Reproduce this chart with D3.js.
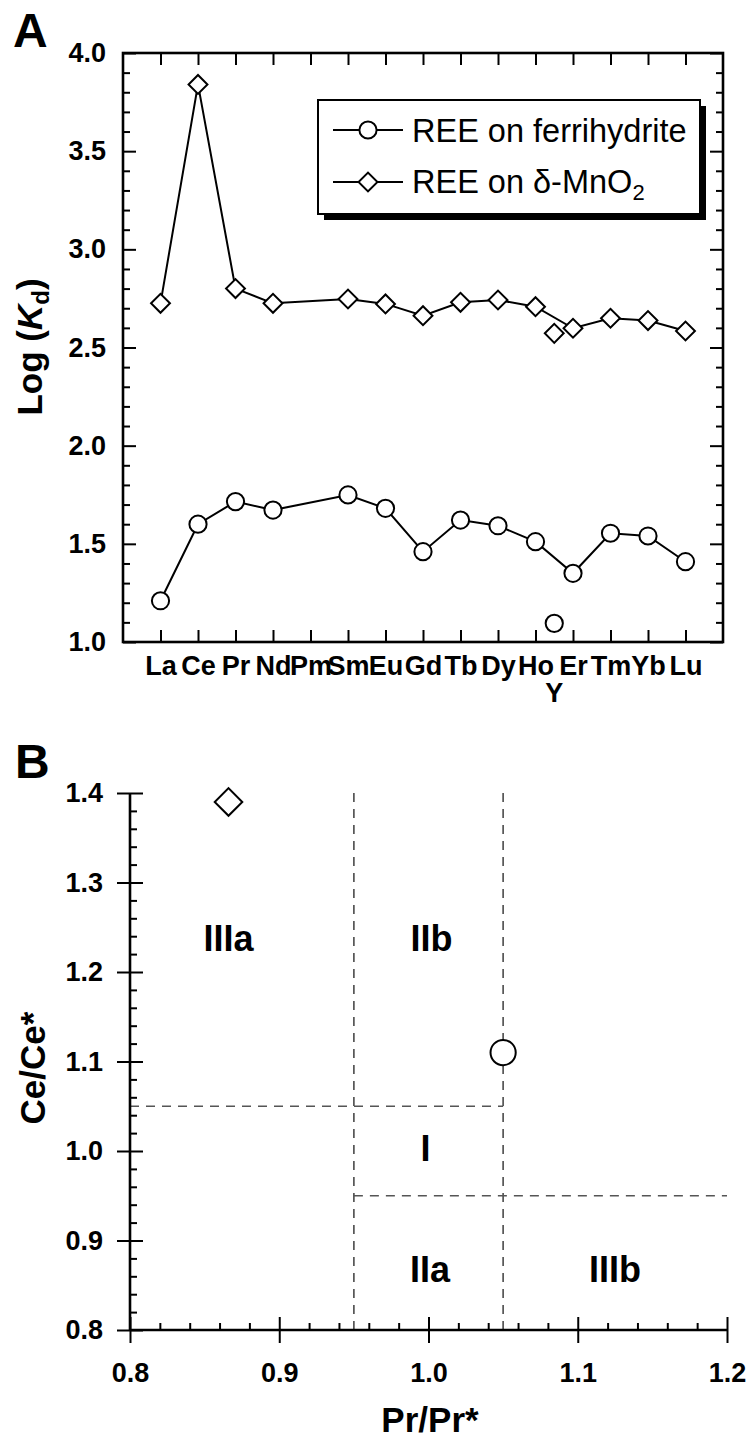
<!DOCTYPE html>
<html>
<head>
<meta charset="utf-8">
<script src="https://cdn.jsdelivr.net/npm/d3@7"></script>
<style>
  html, body { margin: 0; padding: 0; background: #fff; }
  svg { display: block; }
  text { font-family: "Liberation Sans", Arial, Helvetica, sans-serif; }
</style>
</head>
<body>
<svg id="chart" width="747" height="1441"></svg>
<script>
// ---------------- DATA ----------------
// Panel A: log(Kd) of REE on ferrihydrite and on delta-MnO2
const categories = ["La","Ce","Pr","Nd","Pm","Sm","Eu","Gd","Tb","Dy","Ho","Er","Tm","Yb","Lu"];
const ferrihydrite = [1.21, 1.60, 1.715, 1.672, null, 1.749, 1.681, 1.46, 1.621, 1.592, 1.511, 1.35, 1.554, 1.54, 1.409];
const mno2 = [2.725, 3.84, 2.80, 2.725, null, 2.747, 2.722, 2.662, 2.730, 2.742, 2.708, 2.598, 2.649, 2.637, 2.584];
// Yttrium plotted between Ho and Er
const yttriumLabel = "Y";
const yttriumPos = 11.5;          // category position (La = 1)
const yttriumFerrihydrite = 1.095;
const yttriumMnO2 = 2.572;
const yTicksA = [1.0, 1.5, 2.0, 2.5, 3.0, 3.5, 4.0];
const legendLabels = ["REE on ferrihydrite", "REE on δ-MnO"];

// Panel B: Ce/Ce* vs Pr/Pr*
const anomalyPoints = [
  { series: "mno2", pr: 0.866, ce: 1.39 },
  { series: "ferrihydrite", pr: 1.05, ce: 1.11 }
];
const xTicksB = [0.8, 0.9, 1.0, 1.1, 1.2];
const yTicksB = [0.8, 0.9, 1.0, 1.1, 1.2, 1.3, 1.4];
const fieldBoundaries = [
  { x1: 0.95, y1: 1.40, x2: 0.95, y2: 0.80 },
  { x1: 1.05, y1: 1.40, x2: 1.05, y2: 0.80 },
  { x1: 0.80, y1: 1.05, x2: 1.05, y2: 1.05 },
  { x1: 0.95, y1: 0.95, x2: 1.20, y2: 0.95 }
];
const fieldLabels = [
  { text: "IIIa", x: 0.866, y: 1.223 },
  { text: "IIb",  x: 1.002, y: 1.223 },
  { text: "I",    x: 0.998, y: 0.989 },
  { text: "IIa",  x: 1.001, y: 0.854 },
  { text: "IIIb", x: 1.125, y: 0.854 }
];

// ---------------- DRAW ----------------
const svg = d3.select("#chart");
const FONT = "'Liberation Sans', Arial, Helvetica, sans-serif";
const TICK_FS = 27;

// ===== Panel A =====
const A = { left: 123, right: 723, top: 53, bottom: 642 };
const xA = d3.scaleLinear().domain([0, categories.length + 1]).range([A.left, A.right]);
const yA = d3.scaleLinear().domain([1, 4]).range([A.bottom, A.top]);

const gA = svg.append("g");

function styleAxis(g, width) {
  g.selectAll("path.domain").remove();
  g.selectAll(".tick line").attr("stroke", "#000").attr("stroke-width", width);
  g.selectAll(".tick text").attr("fill", "#000");
}

// minor y ticks (0.1)
const minorYA = d3.range(1.1, 4.0, 0.1).filter(v => Math.abs(v * 2 - Math.round(v * 2)) > 1e-6);
gA.append("g").attr("transform", `translate(${A.left},0)`)
  .call(d3.axisLeft(yA).tickValues(minorYA).tickSize(-7).tickFormat(""))
  .call(g => styleAxis(g, 2));
gA.append("g").attr("transform", `translate(${A.right},0)`)
  .call(d3.axisRight(yA).tickValues(minorYA).tickSize(-7).tickFormat(""))
  .call(g => styleAxis(g, 2));
// major y ticks
gA.append("g").attr("transform", `translate(${A.left},0)`)
  .call(d3.axisLeft(yA).tickValues(yTicksA).tickSize(-13).tickPadding(17).tickFormat(d3.format(".1f")))
  .call(g => styleAxis(g, 2))
  .call(g => g.selectAll("text").attr("font-family", FONT).attr("font-size", TICK_FS).attr("font-weight", "bold"));
gA.append("g").attr("transform", `translate(${A.right},0)`)
  .call(d3.axisRight(yA).tickValues(yTicksA).tickSize(-13).tickFormat(""))
  .call(g => styleAxis(g, 2));
// category ticks
const catPos = categories.map((c, i) => i + 1);
gA.append("g").attr("transform", `translate(0,${A.bottom})`)
  .call(d3.axisBottom(xA).tickValues(catPos).tickSize(-12).tickPadding(14).tickFormat(d => categories[d - 1]))
  .call(g => styleAxis(g, 2))
  .call(g => g.selectAll("text").attr("font-family", FONT).attr("font-size", TICK_FS).attr("font-weight", "bold"));
gA.append("g").attr("transform", `translate(0,${A.top})`)
  .call(d3.axisTop(xA).tickValues(catPos).tickSize(-12).tickFormat(""))
  .call(g => styleAxis(g, 2));
// Y label under the axis
gA.append("text")
  .attr("x", xA(yttriumPos)).attr("y", 702)
  .attr("text-anchor", "middle")
  .attr("font-size", TICK_FS).attr("font-weight", "bold")
  .text(yttriumLabel);

// frame
gA.append("rect")
  .attr("x", A.left).attr("y", A.top)
  .attr("width", A.right - A.left).attr("height", A.bottom - A.top)
  .attr("fill", "none").attr("stroke", "#000").attr("stroke-width", 2.6);

// series lines
const lineA = d3.line()
  .defined(d => d.v != null)
  .x(d => xA(d.pos)).y(d => yA(d.v));
function seriesPoints(arr) {
  return arr.map((v, i) => ({ pos: i + 1, v })).filter(d => d.v != null);
}
const ferriPts = seriesPoints(ferrihydrite);
const mnPts = seriesPoints(mno2);

[ferriPts, mnPts].forEach(pts => {
  gA.append("path").datum(pts)
    .attr("d", lineA)
    .attr("fill", "none").attr("stroke", "#000").attr("stroke-width", 2);
});

const diamondA = d3.symbol(d3.symbolSquare, 178)();
const circleR_A = 8.6;

function drawCircle(g, cx, cy, r) {
  g.append("circle").attr("cx", cx).attr("cy", cy).attr("r", r)
    .attr("fill", "#fff").attr("stroke", "#000").attr("stroke-width", 2);
}
function drawDiamond(g, cx, cy, path) {
  g.append("path").attr("d", path)
    .attr("transform", `translate(${cx},${cy}) rotate(45)`)
    .attr("fill", "#fff").attr("stroke", "#000").attr("stroke-width", 2);
}

mnPts.forEach(d => drawDiamond(gA, xA(d.pos), yA(d.v), diamondA));
drawDiamond(gA, xA(yttriumPos), yA(yttriumMnO2), diamondA);
ferriPts.forEach(d => drawCircle(gA, xA(d.pos), yA(d.v), circleR_A));
drawCircle(gA, xA(yttriumPos), yA(yttriumFerrihydrite), circleR_A);

// legend
const L = { x: 318, y: 100, w: 382, h: 114, sh: 6 };
gA.append("rect").attr("x", L.x + L.sh).attr("y", L.y + L.sh).attr("width", L.w).attr("height", L.h).attr("fill", "#000");
gA.append("rect").attr("x", L.x).attr("y", L.y).attr("width", L.w).attr("height", L.h)
  .attr("fill", "#fff").attr("stroke", "#000").attr("stroke-width", 2);
const legRows = [130, 182];
legRows.forEach((ly, i) => {
  gA.append("line").attr("x1", 333).attr("x2", 403).attr("y1", ly).attr("y2", ly)
    .attr("stroke", "#000").attr("stroke-width", 2);
  if (i === 0) drawCircle(gA, 368, ly, circleR_A);
  else drawDiamond(gA, 368, ly, diamondA);
});
gA.append("text").attr("x", 412).attr("y", 142)
  .attr("font-size", 32.5).text(legendLabels[0]);
const t2 = gA.append("text").attr("x", 412).attr("y", 193).attr("font-size", 32.5);
t2.append("tspan").text(legendLabels[1]);
t2.append("tspan").attr("font-size", 22).attr("dy", 7).text("2");

// y title
const tA = gA.append("text")
  .attr("transform", "translate(42,347) rotate(-90)")
  .attr("text-anchor", "middle")
  .attr("font-size", 35).attr("font-weight", "bold");
tA.append("tspan").text("Log (");
tA.append("tspan").attr("font-style", "italic").text("K");
tA.append("tspan").attr("font-size", 24).attr("dy", 7).text("d");
tA.append("tspan").attr("dy", -7).text(")");

// panel letter
svg.append("text").attr("x", 13).attr("y", 47)
  .attr("font-size", 48).attr("font-weight", "bold").text("A");

// ===== Panel B =====
const B = { left: 130, right: 727, top: 793, bottom: 1330 };
const xB = d3.scaleLinear().domain([0.8, 1.2]).range([B.left, B.right]);
const yB = d3.scaleLinear().domain([0.8, 1.4]).range([B.bottom, B.top]);
const gB = svg.append("g");

// dashed field boundaries
gB.selectAll("line.bound").data(fieldBoundaries).enter().append("line")
  .attr("x1", d => xB(d.x1)).attr("x2", d => xB(d.x2))
  .attr("y1", d => yB(d.y1)).attr("y2", d => yB(d.y2))
  .attr("stroke", "#555").attr("stroke-width", 1.7).attr("stroke-dasharray", "9,7");

// minor ticks
const minorXB = d3.range(0.82, 1.2, 0.02).filter(v => Math.abs(v * 10 - Math.round(v * 10)) > 1e-6);
const minorYB = d3.range(0.82, 1.4, 0.02).filter(v => Math.abs(v * 10 - Math.round(v * 10)) > 1e-6);
gB.append("g").attr("transform", `translate(0,${B.bottom})`)
  .call(d3.axisBottom(xB).tickValues(minorXB).tickSize(-7).tickFormat(""))
  .call(g => styleAxis(g, 2));
gB.append("g").attr("transform", `translate(${B.left},0)`)
  .call(d3.axisLeft(yB).tickValues(minorYB).tickSize(-7).tickFormat(""))
  .call(g => styleAxis(g, 2));
// major ticks (crossing)
gB.append("g").attr("transform", `translate(0,${B.bottom})`)
  .call(d3.axisBottom(xB).tickValues(xTicksB).tickSize(13).tickPadding(20).tickFormat(d3.format(".1f")))
  .call(g => styleAxis(g, 2))
  .call(g => g.selectAll(".tick line").attr("y1", -13))
  .call(g => g.selectAll("text").attr("font-family", FONT).attr("font-size", TICK_FS).attr("font-weight", "bold"));
gB.append("g").attr("transform", `translate(${B.left},0)`)
  .call(d3.axisLeft(yB).tickValues(yTicksB).tickSize(13).tickPadding(14).tickFormat(d3.format(".1f")))
  .call(g => styleAxis(g, 2))
  .call(g => g.selectAll(".tick line").attr("x1", 13))
  .call(g => g.selectAll("text").attr("font-family", FONT).attr("font-size", TICK_FS).attr("font-weight", "bold"));
// axis lines
gB.append("line").attr("x1", B.left).attr("x2", B.right).attr("y1", B.bottom).attr("y2", B.bottom)
  .attr("stroke", "#000").attr("stroke-width", 2.6);
gB.append("line").attr("x1", B.left).attr("x2", B.left).attr("y1", B.top).attr("y2", B.bottom)
  .attr("stroke", "#000").attr("stroke-width", 2.6);

// field labels
gB.selectAll("text.field").data(fieldLabels).enter().append("text")
  .attr("x", d => xB(d.x)).attr("y", d => yB(d.y))
  .attr("text-anchor", "middle")
  .attr("font-size", 36).attr("font-weight", "bold")
  .text(d => d.text);

// points
const diamondB = d3.symbol(d3.symbolSquare, 380)();
anomalyPoints.forEach(p => {
  if (p.series === "mno2") drawDiamond(gB, xB(p.pr), yB(p.ce), diamondB);
  else drawCircle(gB, xB(p.pr), yB(p.ce), 12.6);
});

// axis titles
gB.append("text").attr("x", 430).attr("y", 1432)
  .attr("text-anchor", "middle").attr("font-size", 35).attr("font-weight", "bold")
  .text("Pr/Pr*");
gB.append("text").attr("transform", "translate(45,1068) rotate(-90)")
  .attr("text-anchor", "middle").attr("font-size", 35).attr("font-weight", "bold")
  .text("Ce/Ce*");

svg.append("text").attr("x", 15).attr("y", 778)
  .attr("font-size", 48).attr("font-weight", "bold").text("B");
</script>
</body>
</html>
